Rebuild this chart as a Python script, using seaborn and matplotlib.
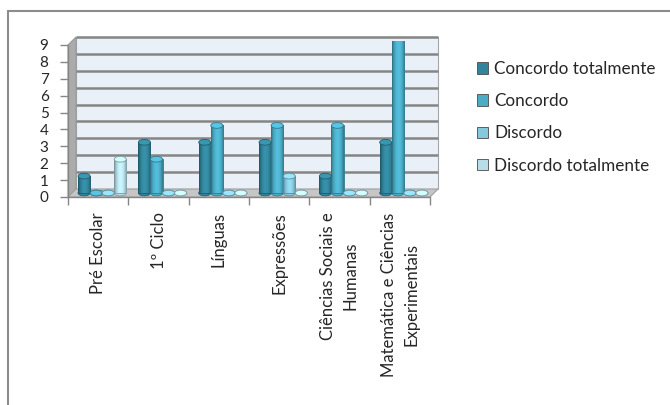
import numpy as np
import pandas as pd
import seaborn as sns
import matplotlib
matplotlib.use("Agg")
import matplotlib.pyplot as plt
from matplotlib.patches import Ellipse, Polygon, Rectangle
from matplotlib.lines import Line2D
from matplotlib.transforms import ScaledTranslation, blended_transform_factory

categories = ["Pré Escolar", "1º Ciclo", "Línguas", "Expressões",
              "Ciências Sociais e\nHumanas", "Matemática e Ciências\nExperimentais"]
series = ["Concordo totalmente", "Concordo", "Discordo", "Discordo totalmente"]
concordo_totalmente = [1, 3, 3, 3, 1, 3]
concordo = [0, 2, 4, 4, 4, 9]
discordo = [0, 0, 0, 1, 0, 0]
discordo_totalmente = [2, 0, 0, 0, 0, 0]
colors = ["#31849B", "#4BACC6", "#86C8DC", "#B7DEE8"]
y_ticks = list(range(0, 10))

rows = []
for s, vals in zip(series, [concordo_totalmente, concordo, discordo, discordo_totalmente]):
    for c, v in zip(categories, vals):
        rows.append({"cat": c, "serie": s, "valor": v})
df = pd.DataFrame(rows)

sns.set_style("white")
plt.rcParams["font.family"] = ["Lato", "DejaVu Sans"]

W, H = 670, 405
fig = plt.figure(figsize=(W / 100, H / 100), dpi=100)
L, R, B, T = 68, 430, 197, 45
ax = fig.add_axes([L / W, (H - B) / H, (R - L) / W, (B - T) / H])
ax.set_facecolor("none")
for sp in ax.spines.values():
    sp.set_visible(False)

depth = 8  # px
dx = depth / (R - L)
dy = depth / (B - T)
off = ScaledTranslation(depth / 100, depth / 100, fig.dpi_scale_trans)
half = ScaledTranslation(depth / 200, depth / 200, fig.dpi_scale_trans)

# back wall
ax.add_patch(Rectangle((0, 0), 1, 1, transform=ax.transAxes + off,
                       facecolor="#E9F0F7", edgecolor="#A6A6A6", lw=0.8,
                       zorder=0, clip_on=False))
# left wall
ax.add_patch(Polygon([(0, 0), (dx, dy), (dx, 1 + dy), (0, 1)], closed=True,
                     transform=ax.transAxes, facecolor="#ABABAB",
                     edgecolor="#9A9A9A", lw=0.8, zorder=0.5, clip_on=False))
# floor
ax.add_patch(Polygon([(0, 0), (1, 0), (1 + dx, dy), (dx, dy)], closed=True,
                     transform=ax.transAxes, facecolor="#C6C6C6",
                     edgecolor="#A0A0A0", lw=0.8, zorder=0.6, clip_on=False))

sns.barplot(data=df, x="cat", y="valor", hue="serie", palette=colors,
            width=0.8, ax=ax, saturation=1, edgecolor="none", legend=True,
            zorder=3)

# gridlines on back wall
gtr = blended_transform_factory(ax.transAxes, ax.transData)
for yv in y_ticks[1:]:
    ax.plot([0, 1], [yv, yv], transform=gtr + off, color="#858585", lw=1.8,
            zorder=1, clip_on=False, solid_capstyle="butt")

# cylinder look: shift bars to mid depth, add gradient and caps
bar_patches = [p for p in ax.patches if isinstance(p, Rectangle) and p.get_zorder() == 3]
cap_h = 0.34
prof = np.linspace(0, 1, 40)
shade = 0.72 + 0.45 * np.sin(np.pi * np.clip(prof * 1.05, 0, 1)) ** 0.7
shade = shade - 0.12 * (1 - prof)
for p in bar_patches:
    p.set_transform(ax.transData + half)
    x0, w, h = p.get_x(), p.get_width(), p.get_height()
    fc = np.array(p.get_facecolor()[:3])
    dark = tuple(np.clip(fc * 0.7, 0, 1))
    light = tuple(np.clip(fc * 1.15, 0, 1))
    p.set_edgecolor(dark)
    p.set_linewidth(0.6)
    if h > 0:
        grad = np.clip(fc[None, None, :] * shade[None, :, None], 0, 1)
        im = ax.imshow(grad, extent=[x0, x0 + w, 0, h], aspect="auto",
                       interpolation="bilinear", zorder=3.1)
        im.set_transform(ax.transData + half)
        im.set_clip_path(p)
    ax.add_patch(Ellipse((x0 + w / 2, 0), w, cap_h, transform=ax.transData + half,
                         facecolor=tuple(fc), edgecolor=dark, lw=0.6, zorder=2.9))
    ax.add_patch(Ellipse((x0 + w / 2, h), w, cap_h, transform=ax.transData + half,
                         facecolor=light, edgecolor=dark, lw=0.6, zorder=3.5))

ax.set_ylim(0, 9)
ax.set_xlim(-0.5, len(categories) - 0.5)
ax.set_aspect("auto")

# front axis lines
ax.plot([0, 1], [0, 0], transform=ax.transAxes, color="#868686", lw=1, clip_on=False, zorder=4)
ax.plot([0, 0], [0, 1], transform=ax.transAxes, color="#868686", lw=1, clip_on=False, zorder=0.7)

ax.set_yticks(y_ticks)
ax.set_yticklabels([str(v) for v in y_ticks], fontsize=11)
ax.tick_params(axis="y", length=6, width=1, color="#868686", pad=8, left=True)
ax.set_xticks(range(len(categories)))
ax.set_xticklabels(categories, rotation=90, fontsize=12, ha="center", va="top",
                   multialignment="center", linespacing=1.5)
ax.tick_params(axis="x", length=0, pad=11)
ax.set_xticks(np.arange(-0.5, len(categories), 1), minor=True)
ax.tick_params(axis="x", which="minor", length=6, width=1, color="#868686", bottom=True)
ax.set_xlabel("")
ax.set_ylabel("")

# legend
ax.get_legend().remove()
leg_handles = [Rectangle((0, 0), 1, 1, facecolor=c, edgecolor="#4A4A4A", lw=0.6) for c in colors]
fig.legend(leg_handles, series, loc="upper left", bbox_to_anchor=(470 / W, 1 - 54 / H),
           frameon=False, fontsize=12.3, handlelength=0.65, handleheight=0.65,
           handletextpad=0.35, labelspacing=0.95, borderaxespad=0)

# outer frame (top and left visible)
fig.add_artist(Line2D([8 / W, 8 / W], [0, 1 - 11 / H], color="#8C8C8C", lw=1.5))
fig.add_artist(Line2D([8 / W, 1], [1 - 11 / H, 1 - 11 / H], color="#8C8C8C", lw=1.5))

fig.savefig("out.png", dpi=100)
